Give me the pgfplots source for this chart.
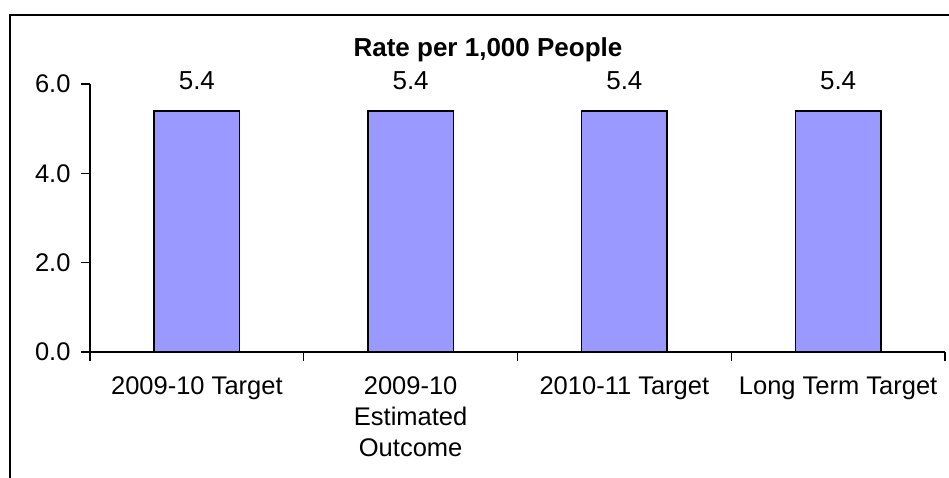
\documentclass[border=0pt]{standalone}
\usepackage{fontspec}
\setmainfont{Liberation Sans}
\usepackage{pgfplots}
\pgfplotsset{compat=1.18}
\definecolor{barfill}{HTML}{9999FF}

\begin{document}
\begin{tikzpicture}[x=1pt,y=1pt]
\useasboundingbox (0,0) rectangle (949,478);
% outer chart frame
\draw[line width=2pt] (10,-5) -- (10,463) -- (960,463);
% chart title
\node[anchor=base,font=\fontsize{26}{31}\selectfont\bfseries,inner sep=0pt] at (488,421) {Rate per 1,000 People};
\begin{axis}[
  at={(90pt,126pt)}, anchor=south west,
  scale only axis, width=855pt, height=268pt,
  xmin=0, xmax=4, ymin=0, ymax=6,
  axis x line*=bottom, axis y line*=left,
  axis line style={line width=1.6pt, -},
  every tick/.style={black, line width=1.4pt},
  tick align=outside, major tick length=9pt,
  xtick={0,1,2,3,4}, xticklabels={},
  extra x ticks={0.5,1.5,2.5,3.5},
  extra x tick labels={2009-10 Target,{2009-10\\Estimated\\Outcome},2010-11 Target,Long Term Target},
  extra x tick style={major tick length=0pt,
    tick label style={align=center, yshift=-21pt}},
  ytick={0,2,4,6},
  /pgf/number format/assume math mode=true,
  yticklabel={\pgfmathprintnumber[fixed,fixed zerofill,precision=1]{\tick}},
  yticklabel style={xshift=-7pt},
  tick label style={font=\fontsize{25.5}{31}\selectfont},
  bar width=0.4,
  nodes near coords={\pgfmathprintnumber[fixed,fixed zerofill,precision=1]{\pgfplotspointmeta}},
  every node near coord/.append style={font=\fontsize{26}{31}\selectfont, yshift=17pt},
  clip=false,
]
\addplot[ybar, fill=barfill, draw=black, line width=1.6pt]
  coordinates {(0.5,5.4) (1.5,5.4) (2.5,5.4) (3.5,5.4)};
\end{axis}
\end{tikzpicture}
\end{document}
